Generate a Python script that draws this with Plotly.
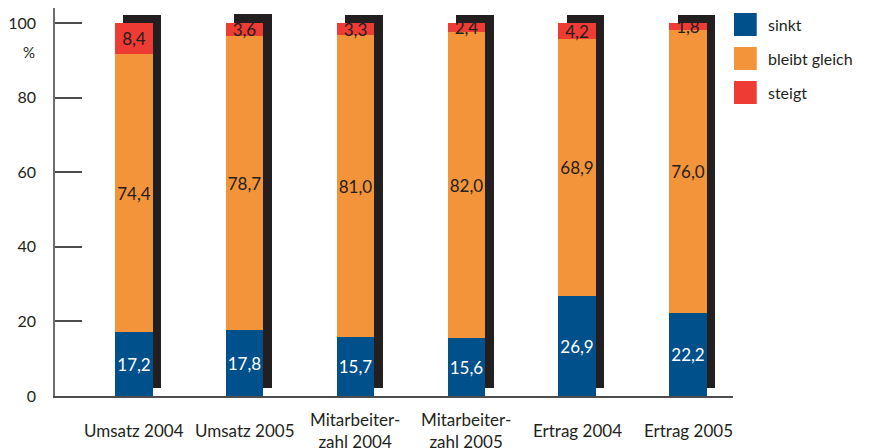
import plotly.graph_objects as go

kategorien = ["Umsatz 2004", "Umsatz 2005", "Mitarbeiter-<br>zahl 2004",
              "Mitarbeiter-<br>zahl 2005", "Ertrag 2004", "Ertrag 2005"]
sinkt = [17.2, 17.8, 15.7, 15.6, 26.9, 22.2]
bleibt_gleich = [74.4, 78.7, 81.0, 82.0, 68.9, 76.0]
steigt = [8.4, 3.6, 3.3, 2.4, 4.2, 1.8]

y_ticks = [0, 20, 40, 60, 80, 100]

BLAU = "#00508c"
ORANGE = "#f4943a"
ROT = "#ee3b33"
DUNKEL = "#231f20"
SCHRIFT = "Lato"

x_pos = list(range(len(kategorien)))
breite = 0.34
schatten_dx = 0.075
schatten_dy = 2.2


def fmt(v):
    return f"{v:.1f}".replace(".", ",")


summe = [a + b + c for a, b, c in zip(sinkt, bleibt_gleich, steigt)]
basis_orange = sinkt
basis_rot = [a + b for a, b in zip(sinkt, bleibt_gleich)]

fig = go.Figure()

# schwarzer Schatten hinter jedem Balken
fig.add_trace(go.Bar(
    x=x_pos, y=summe, base=[schatten_dy] * len(x_pos),
    width=breite, offset=-breite / 2 + schatten_dx,
    marker=dict(color=DUNKEL, line=dict(width=0)),
    hoverinfo="skip", showlegend=False,
))

serien = [
    ("sinkt", sinkt, [0] * len(sinkt), BLAU, "white"),
    ("bleibt gleich", bleibt_gleich, basis_orange, ORANGE, DUNKEL),
    ("steigt", steigt, basis_rot, ROT, DUNKEL),
]
for name, werte, basis, farbe, textfarbe in serien:
    fig.add_trace(go.Bar(
        x=x_pos, y=werte, base=basis, name=name,
        width=breite, offset=-breite / 2,
        marker=dict(color=farbe, line=dict(width=0)),
        text=[fmt(v) for v in werte],
        textposition="inside", insidetextanchor="middle", textangle=0,
        insidetextfont=dict(color=textfarbe, size=17, family=SCHRIFT),
        showlegend=False,
    ))

# Kategorienbeschriftung unter der Achse
for i, k in enumerate(kategorien):
    fig.add_annotation(x=i, y=0, text=k, showarrow=False, yanchor="middle",
                       yshift=-34, font=dict(size=17, color=DUNKEL, family=SCHRIFT))

fig.add_annotation(x=-0.026, xref="paper", y=92.2, yref="y", text="%", showarrow=False,
                   xanchor="right", yanchor="middle",
                   font=dict(size=15, color=DUNKEL, family=SCHRIFT))

# Legende (Seite hat 8px Rand, daher Koordinaten relativ zur Figur)
oben, unten = 0, 388
def py(p):
    return (unten - p) / (unten - oben)

for i, (name, _, _, farbe, _) in enumerate(serien):
    top = 5 + i * 34
    fig.add_shape(type="rect", xref="paper", yref="paper",
                  x0=1.0015, x1=1.035, y0=py(top + 23), y1=py(top),
                  fillcolor=farbe, line=dict(width=0))
    fig.add_annotation(xref="paper", yref="paper", x=1.048, y=py(top + 11.5),
                       text=name, showarrow=False, xanchor="left", yanchor="middle",
                       font=dict(size=16, color=DUNKEL, family=SCHRIFT))

fig.update_layout(
    width=863, height=440,
    margin=dict(l=45, r=138, t=0, b=52),
    paper_bgcolor="white", plot_bgcolor="white",
    barmode="overlay", bargap=0,
    uniformtext=dict(mode="show", minsize=17),
    font=dict(family=SCHRIFT, color=DUNKEL),
    xaxis=dict(range=[-0.71, 5.405], showticklabels=False, ticks="",
               showgrid=False, zeroline=False,
               showline=True, linecolor="#4d4d4f", linewidth=1.5),
    yaxis=dict(range=[0, 104], tickvals=y_ticks, showgrid=False, zeroline=False,
               showline=True, linecolor="#6d6e71", linewidth=1.5,
               ticks="inside", ticklen=27, tickwidth=1.5, tickcolor="#4d4d4f",
               ticklabelstandoff=14,
               tickfont=dict(size=16, color=DUNKEL, family=SCHRIFT)),
)

fig.write_html("out.html")
